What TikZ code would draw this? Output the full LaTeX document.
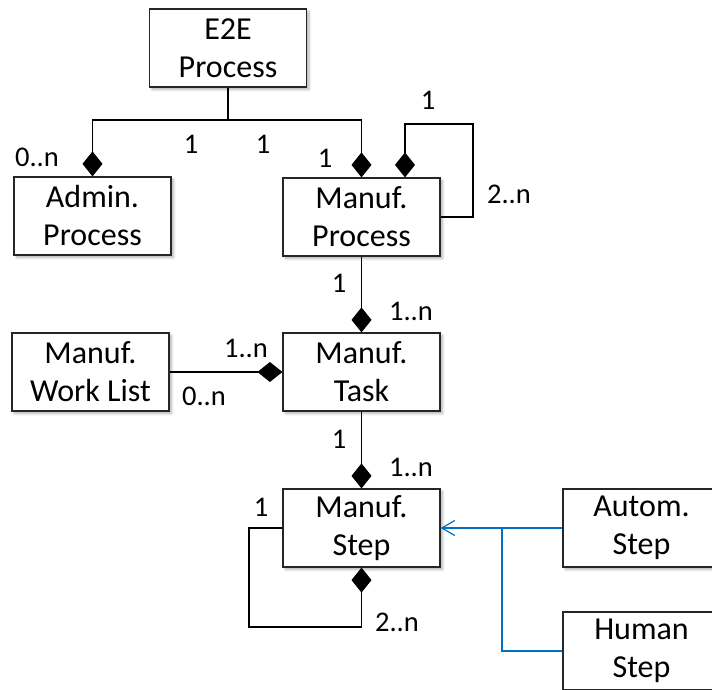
\documentclass[tikz,border=0pt]{standalone}
\usepackage{fontspec}
\setmainfont{Carlito}
\usetikzlibrary{arrows.meta,shadows.blur}

\definecolor{genblue}{RGB}{0,112,192}

\tikzset{
  cls/.style={draw=black!85, line width=1.2pt, fill=white,
    minimum width=157pt, minimum height=78pt, align=center, inner sep=0pt,
    font=\fontsize{32}{38}\selectfont,
    blur shadow={shadow xshift=2.5pt, shadow yshift=-2.5pt,
      shadow blur radius=2.5pt, shadow blur steps=6, shadow opacity=30}},
  lbl/.style={font=\fontsize{28.5}{30}\selectfont, inner sep=0pt},
  comp/.style={draw=black, line width=1.2pt, -{Diamond[length=25pt,width=20pt]}},
  gen/.style={draw=genblue, line width=1.2pt},
}

\begin{document}
\begin{tikzpicture}[x=1pt, y=-1pt]
  \useasboundingbox (0,0) rectangle (712,690);

  % classes
  \node[cls] (e2e) at (228,48)    {E2E\\Process};
  \node[cls] (adm) at (92.5,216)  {Admin.\\Process};
  \node[cls] (mp)  at (361.5,217) {Manuf.\\Process};
  \node[cls] (mt)  at (361.5,372) {Manuf.\\Task};
  \node[cls, line width=2pt] (wl) at (90.5,372) {Manuf.\\Work List};
  \node[cls] (ms)  at (361.5,528) {Manuf.\\Step};
  \node[cls] (as)  at (641.5,528) {Autom.\\Step};
  \node[cls] (hs)  at (641.5,651) {Human\\Step};

  % helper points for routed connectors
  \coordinate (jy) at (0,120);
  \coordinate (lp) at (473,124);
  \coordinate (sl) at (249,627);
  \coordinate (br) at (502,528);

  % compositions
  \draw[comp] (e2e.south) -- (e2e.south |- jy) -| (adm.north);
  \draw[comp] (e2e.south |- jy) -| (mp.north);
  \draw[comp] (mp.east) -| (lp) -| ([xshift=43.5pt]mp.north);
  \draw[comp] (mp.south) -- (mt.north);
  \draw[comp] (wl.east) -- (mt.west);
  \draw[comp] (mt.south) -- (ms.north);
  \draw[comp] (ms.west) -| (sl) -| (ms.south);

  % generalization
  \draw[gen, -{Straight Barb[length=13pt,width=15pt]}] (as.west) -- (ms.east);
  \draw[gen] (hs.west) -| (br);

  % multiplicities
  \node[lbl] (m1)  at (37,157)  {0..n};
  \node[lbl] (m2)  at (191,144) {1};
  \node[lbl] (m3)  at (263,144) {1};
  \node[lbl] (m4)  at (325,158) {1};
  \node[lbl] (m5)  at (428,100) {1};
  \node[lbl] (m6)  at (509,194) {2..n};
  \node[lbl] (m7)  at (339,283) {1};
  \node[lbl] (m8)  at (411,311) {1..n};
  \node[lbl] (m9)  at (246,348) {1..n};
  \node[lbl] (m10) at (204,396) {0..n};
  \node[lbl] (m11) at (339,439) {1};
  \node[lbl] (m12) at (411,467) {1..n};
  \node[lbl] (m13) at (261,507) {1};
  \node[lbl] (m14) at (397,622) {2..n};
\end{tikzpicture}
\end{document}
